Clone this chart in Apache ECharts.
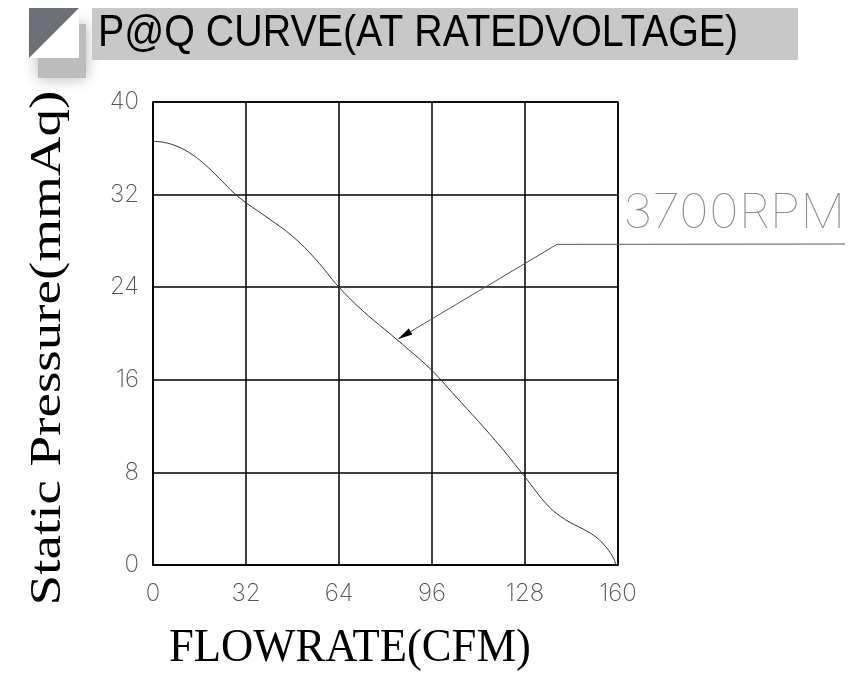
<!DOCTYPE html>
<html>
<head>
<meta charset="utf-8">
<script src="https://cdn.jsdelivr.net/npm/echarts@6/dist/echarts.min.js"></script>
<style>
  html, body { margin: 0; padding: 0; background: #fff; }
  #chart { width: 854px; height: 674px; }
</style>
</head>
<body>
<div id="chart"></div>
<script>
// P@Q curve, 3700 RPM
const flowrate = [0, 4, 8, 12, 16, 20, 24, 28, 32, 40, 48, 56, 64, 72, 80, 88, 96, 104, 112, 120, 128, 136, 142, 148, 152, 155, 157.5, 158.8, 159.2];
const pressure = [36.6, 36.5, 36.2, 35.7, 35.0, 34.1, 33.1, 32.1, 31.3, 29.9, 28.4, 26.4, 24.0, 22.0, 20.3, 18.6, 16.8, 14.6, 12.4, 10.1, 7.6, 5.1, 3.9, 3.1, 2.5, 1.8, 1.0, 0.4, 0];
const xTicks = [0, 32, 64, 96, 128, 160];
const yTicks = [0, 8, 16, 24, 32, 40];
const titleText = 'P@Q CURVE(AT RATEDVOLTAGE)';
const curveLabel = '3700RPM';
const arrowTip = [84.2, 19.5];
const arrowElbow = [139, 27.7];

const chart = echarts.init(document.getElementById('chart'));

const tickLabel = {
  color: '#555',
  fontFamily: 'Inter',
  fontWeight: 200,
  fontSize: 24
};

chart.setOption({
  animation: false,
  grid: {
    left: 153, right: 236, top: 102, bottom: 109,
    show: true, borderColor: '#000', borderWidth: 1.5
  },
  xAxis: {
    type: 'value',
    min: xTicks[0], max: xTicks[xTicks.length - 1],
    interval: xTicks[1] - xTicks[0],
    axisLine: { lineStyle: { color: '#000', width: 1.5 } },
    axisTick: { show: false },
    splitLine: { lineStyle: { color: '#000', width: 1.5 } },
    axisLabel: Object.assign({ margin: 17 }, tickLabel)
  },
  yAxis: {
    type: 'value',
    min: yTicks[0], max: yTicks[yTicks.length - 1],
    interval: yTicks[1] - yTicks[0],
    axisLine: { lineStyle: { color: '#000', width: 1.5 } },
    axisTick: { show: false },
    splitLine: { lineStyle: { color: '#000', width: 1.5 } },
    axisLabel: Object.assign({ margin: 14 }, tickLabel)
  },
  series: [{
    type: 'line',
    data: flowrate.map((f, i) => [f, pressure[i]]),
    smooth: 0.4,
    showSymbol: false,
    lineStyle: { color: '#333', width: 1 }
  }]
});

// annotations (banner, axis names, leader with arrow)
const tip = chart.convertToPixel({ gridIndex: 0 }, arrowTip);
const elbow = chart.convertToPixel({ gridIndex: 0 }, arrowElbow);
const dx = elbow[0] - tip[0], dy = elbow[1] - tip[1];
const len = Math.sqrt(dx * dx + dy * dy);
const ux = dx / len, uy = dy / len;
const headLen = 15, headW = 3.5;
const bx = tip[0] + ux * headLen, by = tip[1] + uy * headLen;

chart.setOption({
  graphic: [
    // shadow of icon
    { type: 'rect', shape: { x: 38, y: 24, width: 48, height: 54 },
      style: { fill: '#bcbcbc', shadowBlur: 14, shadowColor: 'rgba(0,0,0,0.3)' }, z: 1 },
    { type: 'rect', shape: { x: 29, y: 8, width: 50, height: 50 }, style: { fill: '#fff' }, z: 2 },
    { type: 'polygon', shape: { points: [[29, 8], [79, 8], [29, 58]] }, style: { fill: '#6c6e78' }, z: 3 },
    // title banner
    { type: 'rect', shape: { x: 92, y: 8, width: 706, height: 52 }, style: { fill: '#c8c8c8' }, z: 2 },
    { type: 'text', x: 98, y: 34, scaleX: 0.875, z: 3,
      style: { text: titleText, fill: '#000', font: '45px "Liberation Sans"', verticalAlign: 'middle' } },
    // axis names
    { type: 'text', x: 48, y: 348, rotation: Math.PI / 2, scaleX: 1.25, z: 3,
      style: { text: 'Static Pressure(mmAq)', fill: '#000', font: '44px "Liberation Serif"',
        align: 'center', verticalAlign: 'middle' } },
    { type: 'text', x: 350, y: 649, scaleX: 0.97, z: 3,
      style: { text: 'FLOWRATE(CFM)', fill: '#000', font: '46px "Liberation Serif"',
        align: 'center', verticalAlign: 'middle' } },
    // leader
    { type: 'text', x: 623, y: 238, scaleX: 1.05, z: 3,
      style: { text: curveLabel, fill: '#8a8a8a', font: '100 48px "Inter"', verticalAlign: 'bottom' } },
    { type: 'polyline', z: 3, shape: { points: [[845, 244], elbow, [bx, by]] },
      style: { stroke: '#555', lineWidth: 1, fill: null } },
    { type: 'polygon', z: 3,
      shape: { points: [tip, [bx - uy * headW, by + ux * headW], [bx + uy * headW, by - ux * headW]] },
      style: { fill: '#000' } }
  ]
});
</script>
</body>
</html>
